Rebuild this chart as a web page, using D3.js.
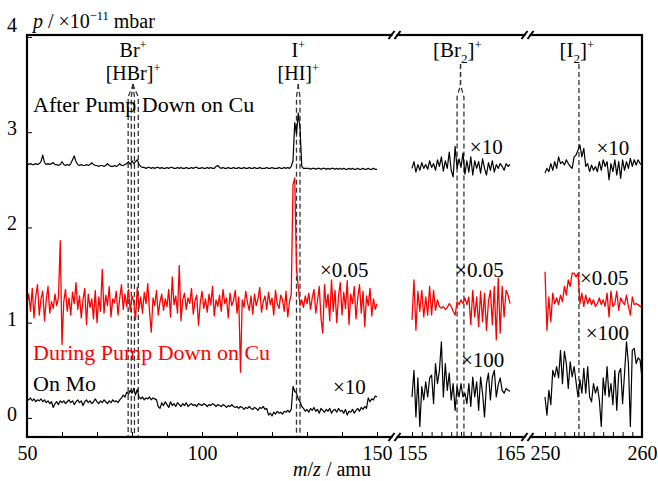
<!DOCTYPE html>
<html>
<head>
<meta charset="utf-8">
<script src="https://cdn.jsdelivr.net/npm/d3@7"></script>
<style>
html, body { margin: 0; padding: 0; background: #fff; }
svg { display: block; font-family: "Liberation Serif", "DejaVu Serif", serif; }
</style>
</head>
<body>
<svg id="chart" width="658" height="481"></svg>
<script>
// ---- data (p in units of 1e-11 mbar, traces already offset/scaled as plotted) ----
// panel 1: m/z 50..150, step 0.5
var topP1 = [
  2.67,2.66,2.67,2.66,2.66,2.67,2.66,2.67,2.69,2.76,
  2.68,2.66,2.67,2.66,2.67,2.68,2.66,2.66,2.65,2.66,
  2.69,2.66,2.65,2.66,2.65,2.67,2.71,2.75,2.69,2.66,
  2.65,2.66,2.65,2.65,2.66,2.65,2.66,2.68,2.66,2.65,
  2.65,2.64,2.65,2.65,2.64,2.65,2.67,2.65,2.64,2.64,
  2.65,2.64,2.65,2.67,2.65,2.65,2.66,2.67,2.69,2.66,
  2.70,2.67,2.69,2.71,2.66,2.64,2.63,2.63,2.62,2.63,
  2.63,2.62,2.63,2.62,2.63,2.63,2.62,2.63,2.62,2.62,
  2.63,2.62,2.63,2.63,2.62,2.62,2.63,2.62,2.63,2.62,
  2.62,2.63,2.62,2.62,2.63,2.62,2.63,2.63,2.62,2.62,
  2.63,2.62,2.62,2.63,2.62,2.63,2.62,2.62,2.64,2.65,
  2.63,2.62,2.63,2.62,2.62,2.63,2.62,2.62,2.63,2.62,
  2.62,2.63,2.62,2.62,2.63,2.62,2.62,2.63,2.62,2.62,
  2.63,2.62,2.62,2.63,2.62,2.62,2.62,2.63,2.62,2.62,
  2.63,2.62,2.62,2.62,2.63,2.62,2.62,2.63,2.62,2.63,
  2.62,2.64,2.70,3.10,2.98,3.20,3.05,2.64,2.62,2.62,
  2.62,2.62,2.61,2.62,2.62,2.61,2.62,2.62,2.61,2.62,
  2.62,2.61,2.62,2.61,2.62,2.62,2.61,2.62,2.61,2.62,
  2.61,2.62,2.61,2.61,2.62,2.61,2.62,2.61,2.61,2.62,
  2.61,2.61,2.62,2.61,2.61,2.62,2.61,2.61,2.62,2.61,2.61
];
var redP1 = [
  1.20,1.30,1.12,1.36,1.05,1.28,1.40,1.08,1.25,1.33,
  1.02,1.24,1.38,1.10,1.22,1.15,1.30,1.18,1.27,1.86,
  0.77,1.22,1.35,1.12,1.26,1.08,1.32,1.20,1.42,1.14,
  1.28,1.05,1.24,1.36,0.98,1.30,1.16,1.25,1.04,1.34,
  1.00,1.27,1.12,1.56,1.10,1.29,1.18,1.38,1.06,1.25,
  1.21,1.33,1.08,1.26,1.40,1.14,1.30,1.17,1.35,1.12,
  1.28,1.22,1.03,1.37,1.15,1.27,1.10,1.32,1.20,1.41,
  1.12,0.90,1.26,1.18,1.34,1.08,1.22,1.30,1.13,1.25,
  1.17,1.35,1.06,1.48,1.19,1.28,1.10,1.60,1.02,1.24,
  1.31,1.14,1.26,1.20,1.36,1.09,1.23,1.29,0.97,1.21,
  1.33,1.15,1.25,1.11,1.30,1.19,1.38,1.07,1.24,1.17,
  1.29,1.12,1.35,1.20,1.26,1.05,1.31,1.18,1.23,1.34,
  1.10,1.27,0.48,1.24,1.16,1.33,1.21,1.13,1.28,1.09,
  1.30,1.18,1.25,1.37,1.11,1.22,1.28,1.14,1.32,1.19,
  1.26,1.08,1.34,1.20,1.15,1.29,1.24,1.12,1.33,1.06,
  1.22,1.30,2.45,2.52,1.57,1.38,1.18,1.24,1.16,1.28,
  1.20,1.31,1.14,1.26,1.35,1.10,1.23,1.38,1.05,0.89,
  1.40,1.16,1.30,1.02,1.45,1.12,1.34,1.00,1.28,1.42,
  1.08,1.32,1.15,1.44,0.98,1.30,1.20,1.38,1.04,1.26,
  1.40,1.10,1.33,0.96,1.28,1.18,1.36,1.07,1.25,1.14,1.20
];
var botP1 = [
  0.20,0.19,0.21,0.18,0.20,0.17,0.19,0.18,0.20,0.17,
  0.19,0.16,0.18,0.15,0.17,0.11,0.15,0.17,0.14,0.18,
  0.16,0.18,0.15,0.17,0.19,0.16,0.18,0.14,0.17,0.19,
  0.16,0.18,0.13,0.17,0.19,0.16,0.18,0.15,0.17,0.20,
  0.17,0.15,0.18,0.16,0.19,0.17,0.15,0.18,0.16,0.19,
  0.17,0.18,0.16,0.19,0.21,0.24,0.22,0.27,0.25,0.29,
  0.26,0.31,0.24,0.30,0.22,0.20,0.22,0.19,0.21,0.20,
  0.22,0.19,0.21,0.20,0.19,0.12,0.10,0.16,0.13,0.17,
  0.14,0.11,0.17,0.13,0.15,0.12,0.16,0.14,0.12,0.15,
  0.13,0.16,0.12,0.14,0.15,0.13,0.14,0.12,0.15,0.14,
  0.13,0.15,0.14,0.12,0.14,0.13,0.15,0.14,0.12,0.14,
  0.13,0.12,0.14,0.13,0.11,0.13,0.12,0.14,0.12,0.11,
  0.12,0.10,0.12,0.11,0.09,0.11,0.10,0.12,0.10,0.09,
  0.11,0.10,0.08,0.11,0.10,0.12,0.09,0.10,0.03,0.05,
  0.02,0.06,0.04,0.07,0.05,0.06,0.04,0.07,0.06,0.08,
  0.06,0.09,0.33,0.28,0.26,0.20,0.17,0.12,0.10,0.07,
  0.09,0.06,0.10,0.08,0.11,0.07,0.09,0.05,0.10,0.08,
  0.06,0.09,0.07,0.10,0.05,0.08,0.09,0.06,0.10,0.07,
  0.08,0.05,0.09,0.03,0.07,0.06,0.09,0.05,0.08,0.10,
  0.07,0.11,0.09,0.12,0.10,0.21,0.17,0.20,0.19,0.23,0.22
];
// panel 2: m/z 155..165, step 0.2
var topP2 = [
  2.62,2.69,2.58,2.66,2.60,2.68,2.62,2.66,2.61,2.70,
  2.63,2.67,2.60,2.71,2.64,2.74,2.59,2.70,2.62,2.79,
  2.60,2.53,2.85,2.62,2.72,2.63,2.78,2.56,2.70,2.58,
  2.74,2.55,2.70,2.62,2.69,2.57,2.72,2.62,2.55,2.68,
  2.60,2.70,2.58,2.66,2.62,2.67,2.64,2.60,2.67,2.64,2.66
];
var redP2 = [
  1.03,1.45,0.92,1.33,1.12,1.34,1.06,1.27,1.08,1.38,
  1.08,1.34,1.13,1.24,1.17,1.15,1.17,1.14,1.16,1.20,
  1.17,1.12,1.08,1.22,1.19,1.24,1.20,1.26,1.19,1.27,
  0.98,1.34,1.06,1.27,0.96,1.33,1.01,1.31,0.92,1.22,
  1.34,0.98,1.38,0.82,1.47,0.89,1.38,1.06,1.34,1.29,1.20
];
var botP2 = [
  0.22,0.50,0.01,0.42,-0.09,0.33,0.19,0.38,0.22,0.42,
  0.45,0.15,0.57,0.36,0.50,0.80,0.22,0.57,0.29,0.47,
  0.19,0.36,0.08,0.33,0.22,0.36,0.22,0.26,0.15,0.36,
  0.12,0.43,0.22,0.38,0.08,0.43,0.26,0.01,0.36,0.47,
  0.19,0.43,0.50,0.22,0.35,0.42,0.29,0.26,0.31,0.29,0.28
];
// panel 3: m/z 250..260, step 0.2
var topP3 = [
  2.57,2.62,2.585,2.67,2.60,2.69,2.62,2.74,2.67,2.69,
  2.655,2.71,2.67,2.64,2.62,2.74,2.76,2.81,2.865,2.74,
  2.83,2.64,2.67,2.585,2.655,2.60,2.64,2.585,2.69,2.60,
  2.71,2.64,2.69,2.50,2.67,2.585,2.71,2.55,2.69,2.515,
  2.71,2.60,2.69,2.62,2.725,2.64,2.71,2.655,2.71,2.67,2.655
];
var redP3 = [
  1.535,0.92,1.27,1.01,1.31,1.20,1.26,1.19,1.29,1.22,
  1.38,1.29,1.45,1.38,1.52,1.52,1.48,1.52,1.20,1.31,
  1.17,1.29,1.20,1.26,1.19,1.24,1.17,1.20,1.26,1.19,
  1.24,1.17,1.31,1.06,1.33,1.17,1.20,1.33,1.13,1.26,
  1.22,1.19,1.29,1.17,1.08,1.27,1.19,1.20,1.19,1.17,1.17
];
var botP3 = [
  0.22,0.03,0.29,0.14,0.50,0.43,0.54,0.42,0.71,0.36,
  0.70,0.57,0.31,0.59,0.43,0.54,0.38,0.22,0.40,0.26,
  0.52,0.26,0.54,0.22,0.17,0.36,0.26,0.33,0.19,-0.09,
  0.42,0.24,0.54,0.22,0.36,0.14,0.50,0.08,0.47,0.52,
  0.15,0.47,0.80,0.57,-0.09,0.71,0.73,0.57,0.63,0.61,0.42
];
// peak assignments (m/z of the dashed markers)
var brLines = [78.9, 79.8, 80.7, 81.8];
var iLines = [127, 128];
var br2Lines = [159.6, 160.3];
var i2Lines = [253.5];
var yTicks = [0, 1, 2, 3, 4];

// ---- layout ----
var plotL = 27, plotR = 642, plotT = 35, plotB = 437;
var fs = 20;
var svg = d3.select("#chart");

var y = d3.scaleLinear().domain([-0.2, 4.02]).range([plotB, plotT]);

var panels = [
  {lo: 50, hi: 150, x0: plotL, x1: 377, step: 0.5, tick: 10, labels: [50, 100, 150], top: topP1, red: redP1, bot: botP1},
  {lo: 155, hi: 165, x0: 412, x1: 510, step: 0.2, tick: 1, labels: [155, 165], top: topP2, red: redP2, bot: botP2},
  {lo: 250, hi: 260, x0: 545, x1: plotR, step: 0.2, tick: 1, labels: [250, 260], top: topP3, red: redP3, bot: botP3}
];
panels.forEach(function(p){
  p.x = d3.scaleLinear().domain([p.lo, p.hi]).range([p.x0, p.x1]);
});

// rich text helper: parts = [[text, kind]] kind: "i", "sup", "sub"
function rich(g, x, yy, parts, opts){
  opts = opts || {};
  var size = opts.size || fs;
  var t = g.append("text").attr("x", x).attr("y", yy)
    .attr("font-size", size)
    .attr("fill", opts.fill || "#000")
    .attr("text-anchor", opts.anchor || "start");
  var shift = 0;
  parts.forEach(function(p){
    var s = t.append("tspan").text(p[0]);
    var want = 0;
    if (p[1] === "i") s.attr("font-style", "italic");
    if (p[1] === "sup") { want = -0.38 * size; s.attr("font-size", 0.62 * size); }
    if (p[1] === "sub") { want = 0.28 * size; s.attr("font-size", 0.62 * size); }
    if (want !== shift) { s.attr("dy", want - shift); shift = want; }
  });
  return t;
}

// ---- dashed peak markers ----
var dashG = svg.append("g").attr("fill", "none").attr("stroke", "#333")
  .attr("stroke-width", 1.3).attr("stroke-dasharray", "5,3");

function markers(p, list, yTop, yFork){
  var xs = list.map(function(m){ return p.x(m); });
  var cx = d3.mean(xs);
  xs.forEach(function(xx){
    dashG.append("path").attr("d",
      "M" + cx + "," + yTop + "L" + cx + "," + yFork +
      "L" + xx + "," + (yFork + 12) + "L" + xx + "," + plotB);
  });
  return cx;
}
var cxBr = markers(panels[0], brLines, 84, 85);
var cxI = markers(panels[0], iLines, 84, 85);
var cxBr2 = markers(panels[1], br2Lines, 64, 85);
var cxI2 = markers(panels[2], i2Lines, 64, 85);

// ---- traces ----
var traceG = svg.append("g").attr("fill", "none").attr("stroke-linejoin", "round");
panels.forEach(function(p){
  var line = d3.line()
    .x(function(d, i){ return p.x(p.lo + i * p.step); })
    .y(function(d){ return y(d); });
  traceG.append("path").datum(p.top).attr("d", line).attr("stroke", "#000").attr("stroke-width", 1.2);
  traceG.append("path").datum(p.red).attr("d", line).attr("stroke", "#ff0000").attr("stroke-width", 1.3);
  traceG.append("path").datum(p.bot).attr("d", line).attr("stroke", "#000").attr("stroke-width", 1.2);
});

// ---- axes ----
panels.forEach(function(p){
  var ax = d3.axisBottom(p.x)
    .tickValues(d3.range(p.lo, p.hi + 0.001, p.tick))
    .tickSize(-5).tickPadding(9)
    .tickFormat(function(v){ return p.labels.indexOf(v) >= 0 ? v : ""; });
  var g = svg.append("g").attr("transform", "translate(0," + plotB + ")").call(ax);
  g.attr("font-family", null).attr("font-size", fs);
  g.select(".domain").remove();
  g.selectAll(".tick line").attr("stroke", "#000").attr("stroke-width", 1);
  g.selectAll(".tick text").attr("fill", "#000");
});

var yAx = d3.axisLeft(y).tickValues(yTicks).tickSize(-5).tickPadding(10).tickFormat(d3.format("d"));
var yg = svg.append("g").attr("transform", "translate(" + plotL + ",0)").call(yAx);
yg.attr("font-family", null).attr("font-size", fs);
yg.select(".domain").remove();
yg.selectAll(".tick line").attr("stroke", "#000").attr("stroke-width", 1);
yg.selectAll(".tick text").attr("fill", "#000")
  .attr("y", function(v){ return v === 4 ? -12 : -4; });

// frame
svg.append("rect").attr("x", plotL).attr("y", plotT)
  .attr("width", plotR - plotL).attr("height", plotB - plotT)
  .attr("fill", "none").attr("stroke", "#000").attr("stroke-width", 2.2);

// axis breaks
[ (panels[0].x1 + panels[1].x0) / 2, (panels[1].x1 + panels[2].x0) / 2 ].forEach(function(bx){
  [plotT, plotB].forEach(function(by){
    var g = svg.append("g");
    g.append("rect").attr("x", bx - 2).attr("y", by - 2).attr("width", 4).attr("height", 4).attr("fill", "#fff");
    [-3, 3].forEach(function(o){
      g.append("line").attr("x1", bx + o - 3).attr("y1", by + 4)
        .attr("x2", bx + o + 3).attr("y2", by - 4)
        .attr("stroke", "#000").attr("stroke-width", 2);
    });
  });
});

// axis titles
rich(svg, 33, 28, [["p", "i"], [" / ×10"], ["−11", "sup"], [" mbar"]]);
rich(svg, 332, 476, [["m", "i"], ["/"], ["z", "i"], [" / amu"]], {anchor: "middle"});

// ion labels
rich(svg, cxBr, 57, [["Br"], ["+", "sup"]], {anchor: "middle"});
rich(svg, cxBr, 80, [["[HBr]"], ["+", "sup"]], {anchor: "middle"});
rich(svg, cxI, 57, [["I"], ["+", "sup"]], {anchor: "middle"});
rich(svg, cxI, 80, [["[HI]"], ["+", "sup"]], {anchor: "middle"});
rich(svg, cxBr2 - 3, 57, [["[Br"], ["2", "sub"], ["]"], ["+", "sup"]], {anchor: "middle", size: 21});
rich(svg, cxI2 - 2, 57, [["[I"], ["2", "sub"], ["]"], ["+", "sup"]], {anchor: "middle", size: 21});

// series labels
rich(svg, 33, 112, [["After Pump Down on Cu"]], {size: 22});
rich(svg, 33, 360, [["During Pump Down on Cu"]], {fill: "#ff0000", size: 22});
rich(svg, 33, 391, [["On Mo"]], {size: 22});

// scale factors [panel, m/z, value, text]
var factors = [
  [0, 133.7, 1.55, "×0.05"], [0, 137.4, 0.33, "×10"],
  [1, 160.9, 2.84, "×10"], [1, 159.4, 1.55, "×0.05"], [1, 160.0, 0.61, "×100"],
  [2, 255.3, 2.83, "×10"], [2, 253.6, 1.47, "×0.05"], [2, 254.2, 0.89, "×100"]
];
factors.forEach(function(f){
  var p = panels[f[0]];
  rich(svg, p.x(f[1]), y(f[2]) + 7, [[f[3]]], {size: 21});
});
</script>
</body>
</html>
